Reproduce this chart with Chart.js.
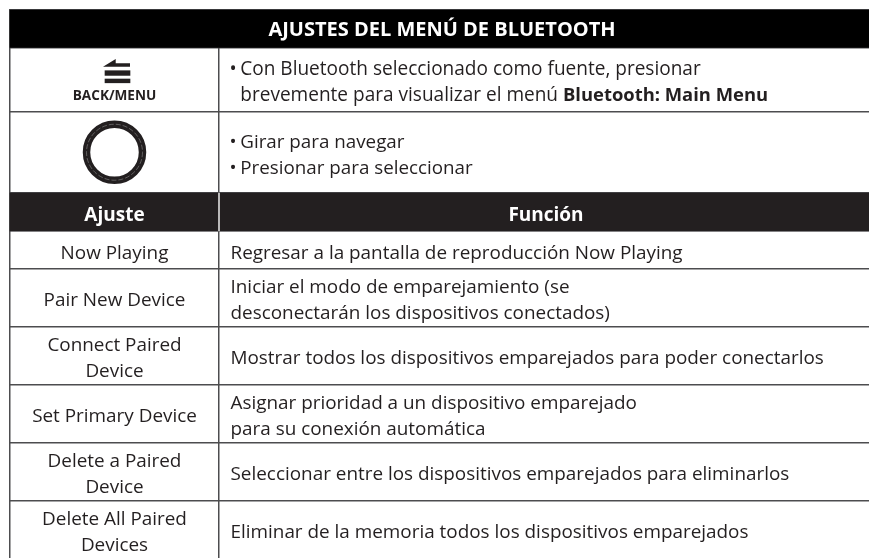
<!DOCTYPE html>
<html>
<head>
<meta charset="utf-8">
<style>
  html, body { margin: 0; padding: 0; background: #fff; }
  canvas { display: block; }
</style>
<script src="https://cdn.jsdelivr.net/npm/chart.js@4"></script>
</head>
<body>
<canvas id="myChart" width="869" height="558"></canvas>
<script>
// table content
const title = 'AJUSTES DEL MENÚ DE BLUETOOTH';
const backLabel = 'BACK/MENU';
const menuLines = [
  ['• ', 'Con Bluetooth seleccionado como fuente, presionar'],
  ['', 'brevemente para visualizar el menú ', 'Bluetooth: Main Menu']
];
const knobLines = [
  ['• ', 'Girar para navegar'],
  ['• ', 'Presionar para seleccionar']
];
const columnHeads = ['Ajuste', 'Función'];
const settings = [
  ['Now Playing'],
  ['Pair New Device'],
  ['Connect Paired', 'Device'],
  ['Set Primary Device'],
  ['Delete a Paired', 'Device'],
  ['Delete All Paired', 'Devices']
];
const functions = [
  ['Regresar a la pantalla de reproducción Now Playing'],
  ['Iniciar el modo de emparejamiento (se', 'desconectarán los dispositivos conectados)'],
  ['Mostrar todos los dispositivos emparejados para poder conectarlos'],
  ['Asignar prioridad a un dispositivo emparejado', 'para su conexión automática'],
  ['Seleccionar entre los dispositivos emparejados para eliminarlos'],
  ['Eliminar de la memoria todos los dispositivos emparejados']
];

// table ruling
const rowEdges = [10, 47.5, 111.5, 193, 231, 268.5, 326.5, 384.5, 442.5, 500.5];
const columnEdges = [10, 219];
const rightEdge = 869;
const bodyStart = 4; // index of the first settings row in rowEdges

const FONT = '"Open Sans"';
const INK = '#231f20';
const BODY_FONT = '18.9px ' + FONT;

const rowMiddle = i => (rowEdges[i] + (rowEdges[i + 1] === undefined ? 558 : rowEdges[i + 1])) / 2;
const tableMiddle = (columnEdges[0] + rightEdge) / 2;
const settingMiddle = (columnEdges[0] + columnEdges[1]) / 2;
const functionMiddle = (columnEdges[1] + rightEdge) / 2;

const tableText = {
  id: 'tableText',
  afterDatasetsDraw(chart) {
    const c = chart.ctx;
    const px = v => chart.scales.x.getPixelForValue(v);
    const py = v => chart.scales.y.getPixelForValue(v);
    const lineGap = 26;
    const baseline = (i, n, k) => py(rowMiddle(i)) + 8.8 + (k - (n - 1) / 2) * lineGap;

    c.save();
    c.textBaseline = 'alphabetic';

    // title and column heads
    c.fillStyle = '#fff';
    c.textAlign = 'center';
    c.font = 'bold 20px ' + FONT;
    c.fillText(title, px(tableMiddle + 2.5), py(36));
    c.font = 'bold 19px ' + FONT;
    c.fillText(columnHeads[0], px(settingMiddle), py(220.7));
    c.fillText(columnHeads[1], px(functionMiddle + 2), py(220.7));

    // back arrow
    c.fillStyle = INK;
    c.beginPath();
    c.moveTo(px(103), py(66.7));
    c.lineTo(px(115.7), py(59));
    c.lineTo(px(115.7), py(63.3));
    c.lineTo(px(130), py(63.3));
    c.lineTo(px(130), py(66.7));
    c.closePath();
    c.fill();

    // fine dashes in the middle of the knob ring
    c.strokeStyle = '#8a8a8a';
    c.lineWidth = 0.6;
    c.setLineDash([5, 2]);
    c.beginPath();
    c.arc(px(settingMiddle), py(rowMiddle(2)), 28, 0, Math.PI * 2);
    c.stroke();
    c.setLineDash([]);

    c.font = 'bold 13.6px ' + FONT;
    c.fillText(backLabel, px(settingMiddle), py(100));

    // settings column
    c.font = BODY_FONT;
    settings.forEach((lines, r) => {
      lines.forEach((t, k) => c.fillText(t, px(settingMiddle), baseline(r + bodyStart, lines.length, k)));
    });

    // function column
    c.textAlign = 'left';
    const textX = px(columnEdges[1] + 11.5);
    functions.forEach((lines, r) => {
      lines.forEach((t, k) => c.fillText(t, textX, baseline(r + bodyStart, lines.length, k)));
    });

    // the two control rows with bullets
    [[menuLines, 1, '19.05px '], [knobLines, 2, '18.8px ']].forEach(([lines, row, size]) => {
      lines.forEach(([bullet, plain, bold], k) => {
        const y = baseline(row, lines.length, k);
        c.font = size + FONT;
        c.fillText(bullet, textX - 1, y);
        c.fillText(plain, textX + 9.8, y);
        if (bold) {
          const x = textX + 9.8 + c.measureText(plain).width;
          c.font = 'bold 18.4px ' + FONT;
          c.fillText(bold, x, y);
        }
      });
    });
    c.restore();
  }
};

new Chart(document.getElementById('myChart'), {
  type: 'bar',
  data: {
    datasets: [
      {
        // the black title band and the column head band
        data: [
          { x: tableMiddle, y: [rowEdges[0], rowEdges[1]] },
          { x: tableMiddle, y: [rowEdges[3], rowEdges[4]] }
        ],
        backgroundColor: ['#000000', INK],
        barThickness: rightEdge - columnEdges[0],
        grouped: false,
        order: 3
      },
      {
        // light rule between the column heads
        data: [{ x: columnEdges[1], y: [rowEdges[3], rowEdges[4]] }],
        backgroundColor: '#d9d9d9',
        barThickness: 1,
        grouped: false,
        order: 2
      },
      {
        // menu icon bars
        data: [
          { x: 117.5, y: [70.7, 75.4] },
          { x: 117.5, y: [79, 82.8] }
        ],
        backgroundColor: INK,
        barThickness: 25,
        grouped: false,
        order: 2
      },
      {
        // knob ring
        type: 'scatter',
        data: [{ x: settingMiddle, y: rowMiddle(2) }],
        pointStyle: 'circle',
        pointRadius: 28,
        pointBorderWidth: 7.5,
        pointBorderColor: INK,
        pointBackgroundColor: 'rgba(0,0,0,0)',
        order: 1
      }
    ]
  },
  plugins: [tableText],
  options: {
    responsive: false,
    animation: false,
    layout: { autoPadding: false, padding: { left: 9, top: 9, right: 0, bottom: 0 } },
    plugins: { legend: { display: false }, tooltip: { enabled: false }, title: { display: false } },
    scales: {
      x: {
        type: 'linear',
        min: 9,
        max: 869,
        offset: false,
        afterBuildTicks: axis => { axis.ticks = columnEdges.map(v => ({ value: v })); },
        ticks: { display: false },
        border: { display: false },
        grid: { offset: false, color: '#4d4d4f', lineWidth: 1.5, drawTicks: false }
      },
      y: {
        type: 'linear',
        reverse: true,
        min: 9,
        max: 558,
        afterBuildTicks: axis => { axis.ticks = rowEdges.map(v => ({ value: v })); },
        ticks: { display: false },
        border: { display: false },
        grid: { color: '#4d4d4f', lineWidth: 1.5, drawTicks: false }
      }
    }
  }
});
</script>
</body>
</html>
